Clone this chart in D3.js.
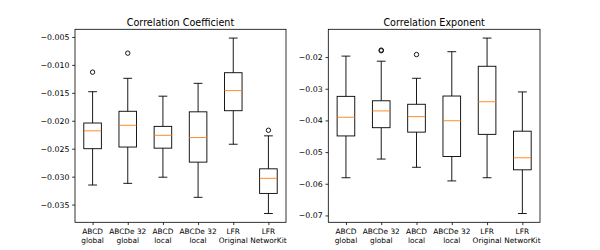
<!DOCTYPE html>
<html>
<head>
  <meta charset="utf-8">
  <script src="https://cdnjs.cloudflare.com/ajax/libs/d3/7.8.5/d3.min.js"></script>
  <style>
    body { margin: 0; background: #fff; }
    svg { display: block; }
    text { font-family: "DejaVu Sans", sans-serif; fill: #000; }
  </style>
</head>
<body>
  <svg id="chart" width="600" height="250"></svg>
  <script>
    // categories on the x axis (two lines each)
    var categories = [
      ["ABCD", "global"], ["ABCDe 32", "global"], ["ABCD", "local"],
      ["ABCDe 32", "local"], ["LFR", "Original"], ["LFR", "NetworKit"]
    ];

    // Correlation Coefficient box stats
    var coefLow  = [-0.0315, -0.0312, -0.0301, -0.0337, -0.0242, -0.0366];
    var coefQ1   = [-0.0250, -0.0247, -0.0249, -0.0274, -0.0182, -0.0330];
    var coefMed  = [-0.0218, -0.0208, -0.0226, -0.0230, -0.0146, -0.0303];
    var coefQ3   = [-0.0204, -0.0183, -0.0210, -0.0184, -0.0114, -0.0286];
    var coefHigh = [-0.0148, -0.0124, -0.0156, -0.0133, -0.0052, -0.0227];
    var coefOut  = [[-0.0113], [-0.0079], [], [], [], [-0.0217]];

    // Correlation Exponent box stats
    var expLow  = [-0.0581, -0.0522, -0.0548, -0.0591, -0.0581, -0.0694];
    var expQ1   = [-0.0449, -0.0423, -0.0437, -0.0514, -0.0444, -0.0556];
    var expMed  = [-0.0390, -0.0370, -0.0388, -0.0401, -0.0341, -0.0518];
    var expQ3   = [-0.0324, -0.0338, -0.0349, -0.0323, -0.0229, -0.0434];
    var expHigh = [-0.0197, -0.0213, -0.0267, -0.0183, -0.0140, -0.0310];
    var expOut  = [[], [-0.0178, -0.0180], [-0.0192], [], [], []];

    var coefTicks = [-0.005, -0.010, -0.015, -0.020, -0.025, -0.030, -0.035];
    var expTicks  = [-0.02, -0.03, -0.04, -0.05, -0.06, -0.07];

    var svg = d3.select("#chart");
    var plotTop = 29.3, plotBottom = 222.3;
    var fmtMinus = function(f) { return function(v) { return f(v).replace("-", "\u2212"); }; };

    function panel(x0, x1, title, low, q1, med, q3, high, outs, ticks, fmt) {
      // matplotlib style 5% margins
      var all = low.concat(high).concat(outs.flat());
      var mn = d3.min(all), mx = d3.max(all), pad = (mx - mn) * 0.05;
      var y = d3.scaleLinear().domain([mn - pad, mx + pad]).range([plotBottom, plotTop]);
      var x = d3.scaleLinear().domain([0.5, 6.5]).range([x0, x1]);
      var bw = (x(1.25) - x(0.75));
      var g = svg.append("g");

      var rows = categories.map(function(c, i) {
        return { i: i + 1, low: low[i], q1: q1[i], med: med[i], q3: q3[i], high: high[i], out: outs[i] };
      });

      var b = g.selectAll(".box").data(rows).enter().append("g").attr("class", "box");
      // whiskers
      b.append("line").attr("x1", d => x(d.i)).attr("x2", d => x(d.i))
        .attr("y1", d => y(d.q3)).attr("y2", d => y(d.high))
        .attr("stroke", "#000").attr("stroke-width", 0.9);
      b.append("line").attr("x1", d => x(d.i)).attr("x2", d => x(d.i))
        .attr("y1", d => y(d.q1)).attr("y2", d => y(d.low))
        .attr("stroke", "#000").attr("stroke-width", 0.9);
      // caps
      [ "low", "high" ].forEach(function(k) {
        b.append("line").attr("x1", d => x(d.i) - bw / 4).attr("x2", d => x(d.i) + bw / 4)
          .attr("y1", d => y(d[k])).attr("y2", d => y(d[k]))
          .attr("stroke", "#000").attr("stroke-width", 0.9);
      });
      // box
      b.append("rect").attr("x", d => x(d.i) - bw / 2).attr("width", bw)
        .attr("y", d => y(d.q3)).attr("height", d => y(d.q1) - y(d.q3))
        .attr("fill", "none").attr("stroke", "#000").attr("stroke-width", 0.9);
      // median
      b.append("line").attr("x1", d => x(d.i) - bw / 2).attr("x2", d => x(d.i) + bw / 2)
        .attr("y1", d => y(d.med)).attr("y2", d => y(d.med))
        .attr("stroke", "#ff7f0e").attr("stroke-width", 0.9);
      // fliers
      b.selectAll("circle").data(d => d.out.map(v => ({ i: d.i, v: v }))).enter()
        .append("circle").attr("cx", d => x(d.i)).attr("cy", d => y(d.v)).attr("r", 2.2)
        .attr("fill", "none").attr("stroke", "#000").attr("stroke-width", 0.9);

      // frame
      g.append("rect").attr("x", x0).attr("y", plotTop).attr("width", x1 - x0).attr("height", plotBottom - plotTop)
        .attr("fill", "none").attr("stroke", "#000").attr("stroke-width", 0.8);

      // y axis
      var ya = g.append("g").attr("transform", "translate(" + x0 + ",0)")
        .call(d3.axisLeft(y).tickValues(ticks).tickFormat(fmtMinus(fmt)).tickSize(2.8).tickPadding(2.8));
      ya.select(".domain").remove();
      ya.selectAll("line").attr("stroke-width", 0.8);
      ya.selectAll("text").style("font-size", "7.8px").style("font-family", "DejaVu Sans");

      // x axis
      var xa = g.append("g").attr("transform", "translate(0," + plotBottom + ")")
        .call(d3.axisBottom(x).tickValues([1, 2, 3, 4, 5, 6]).tickSize(2.8).tickFormat(""));
      xa.select(".domain").remove();
      xa.selectAll("line").attr("stroke-width", 0.8);
      categories.forEach(function(c, i) {
        var t = g.append("text").attr("x", x(i + 1)).attr("text-anchor", "middle").style("font-size", "7.4px");
        t.append("tspan").attr("x", x(i + 1)).attr("y", 233.8).text(c[0]);
        t.append("tspan").attr("x", x(i + 1)).attr("y", 242.6).text(c[1]);
      });

      g.append("text").attr("x", (x0 + x1) / 2).attr("y", 25.8).attr("text-anchor", "middle")
        .style("font-size", "9.6px").text(title);
    }

    panel(75, 286, "Correlation Coefficient", coefLow, coefQ1, coefMed, coefQ3, coefHigh, coefOut, coefTicks, d3.format(".3f"));
    panel(328.3, 540, "Correlation Exponent", expLow, expQ1, expMed, expQ3, expHigh, expOut, expTicks, d3.format(".2f"));
  </script>
</body>
</html>
